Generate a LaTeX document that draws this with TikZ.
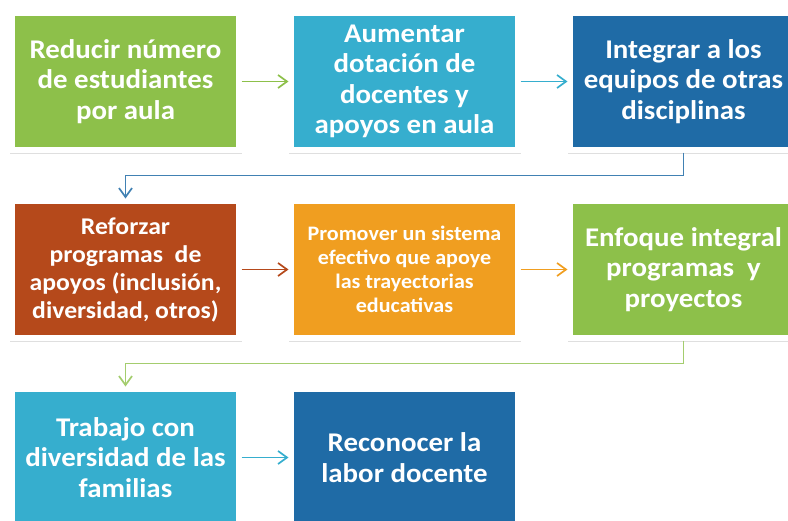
\documentclass[tikz,border=0pt]{standalone}
\usepackage{fontspec}
\setmainfont{Carlito}[FakeStretch=1.07]
\usetikzlibrary{positioning}
\usetikzlibrary{shadows}
\usetikzlibrary{arrows.meta}

\definecolor{leaf}{HTML}{8DC04A}
\definecolor{sky}{HTML}{36AECE}
\definecolor{navy}{HTML}{1F6BA6}
\definecolor{rust}{HTML}{B5491B}
\definecolor{amber}{HTML}{F09E20}

\begin{document}
\begin{tikzpicture}[
      x=1pt,y=1pt,
      node distance=46pt and 47pt,
      card/.style={minimum width=232pt,minimum height=142pt,inner sep=0pt,outer sep=0pt,
          fill=white,drop shadow={shadow xshift=0.5pt,shadow yshift=-1.2pt,opacity=0.25},
          text=white,font=\bfseries\fontsize{27}{30.5}\selectfont,align=center,
          path picture={\fill[#1] ([shift={(5.5pt,5.5pt)}]path picture bounding box.south west)
              rectangle ([shift={(-5.5pt,-5.5pt)}]path picture bounding box.north east);}},
      link/.style={draw=#1,line width=1.7pt,-{Straight Barb[length=9pt,width=13pt]}},
    ]
        \useasboundingbox (0,0) rectangle (788,-520);
        \node[card=leaf] (reducir) at (125.5,-81.5) {Reducir número\\de estudiantes\\por aula};
        \node[card=sky,right=of reducir] (aumentar) {Aumentar\\dotación de\\docentes y\\apoyos en aula};
        \node[card=navy,right=of aumentar] (integrar) {Integrar a los\\equipos de otras\\disciplinas};
        \node[card=rust,below=of reducir,font=\bfseries\fontsize{24}{28}\selectfont] (reforzar)
            {Reforzar\\programas~ de\\apoyos (inclusión,\\diversidad, otros)};
        \node[card=amber,right=of reforzar,font=\bfseries\fontsize{20.6}{24}\selectfont] (promover)
            {Promover un sistema\\efectivo que apoye\\las trayectorias\\educativas};
        \node[card=leaf,right=of promover] (enfoque) {Enfoque integral\\programas~ y\\proyectos};
        \node[card=sky,below=of reforzar] (trabajo) {Trabajo con\\diversidad de las\\familias};
        \node[card=navy,right=of trabajo] (reconocer) {Reconocer la\\labor docente};

        \draw[link=leaf] (reducir) -- (aumentar);
        \draw[link=sky] (aumentar) -- (integrar);
        \draw[link=navy!85] (integrar.south) -- ++(0,-23) -| (reforzar.north);
        \draw[link=rust] (reforzar) -- (promover);
        \draw[link=amber] (promover) -- (enfoque);
        \draw[link=leaf!80] (enfoque.south) -- ++(0,-23) -| (trabajo.north);
        \draw[link=sky] (trabajo) -- (reconocer);
    \end{tikzpicture}
\end{document}
